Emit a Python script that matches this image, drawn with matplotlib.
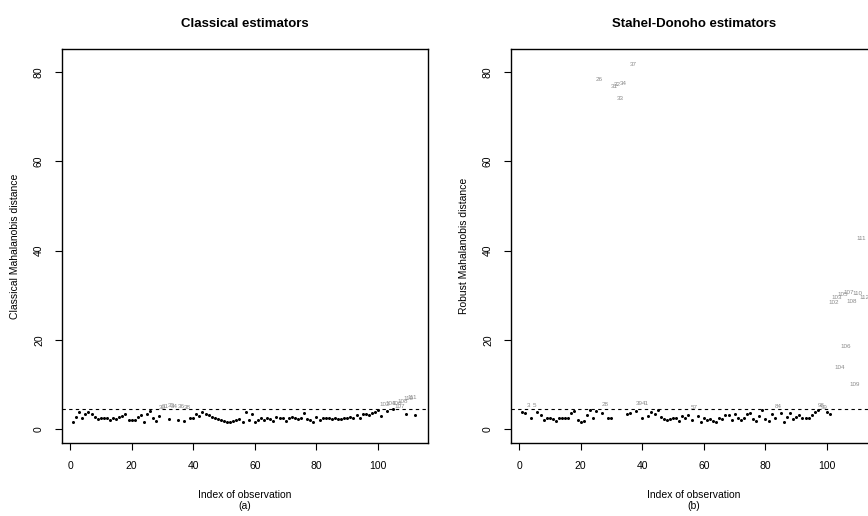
import numpy as np
import matplotlib.pyplot as plt

plt.rcParams['font.family'] = ['Liberation Sans', 'DejaVu Sans']

# Mahalanobis distances for observations 1..112
classical_dist = [1.5, 2.8, 3.8, 2.5, 3.5, 3.8, 3.3, 2.7, 2.2, 2.5,
                  2.4, 2.6, 2.0, 2.4, 2.3, 2.7, 3.0, 3.5, 2.0, 2.0,
                  2.0, 2.8, 3.2, 1.7, 3.5, 4.0, 2.5, 1.8, 3.0, 4.8,
                  5.0, 2.2, 5.3, 5.1, 2.1, 5.0, 1.8, 4.8, 2.6, 2.6,
                  3.5, 3.0, 3.8, 3.3, 3.2, 2.8, 2.6, 2.2, 2.0, 1.8,
                  1.7, 1.7, 1.9, 2.1, 2.3, 1.7, 3.8, 2.1, 3.3, 1.5,
                  2.1, 2.4, 2.0, 2.6, 2.2, 1.8, 2.8, 2.6, 2.5, 1.9,
                  2.5, 2.7, 2.4, 2.3, 2.6, 3.6, 2.2, 2.0, 1.6, 2.7,
                  2.1, 2.4, 2.5, 2.4, 2.3, 2.6, 2.2, 2.3, 2.4, 2.5,
                  2.7, 2.6, 3.2, 2.5, 3.4, 3.5, 3.2, 3.6, 3.8, 4.2,
                  3.0, 5.6, 4.0, 5.7, 4.5, 5.8, 5.1, 6.1, 3.4, 6.8,
                  7.1, 3.2]

robust_dist = [3.8, 3.7, 5.3, 2.4, 5.4, 3.9, 3.1, 2.0, 2.4, 2.6,
               2.2, 1.9, 2.4, 2.5, 2.4, 2.6, 3.6, 4.0, 2.1, 1.5,
               1.9, 3.2, 4.3, 2.4, 4.1, 78.4, 3.7, 5.6, 2.5, 2.5,
               76.8, 77.3, 74.0, 77.5, 3.3, 3.6, 81.8, 4.0, 5.8, 2.5,
               5.7, 3.0, 3.9, 3.4, 4.3, 2.8, 2.3, 2.1, 2.3, 2.4,
               2.6, 1.9, 2.9, 2.5, 3.1, 2.0, 4.9, 2.9, 1.5, 2.6,
               2.1, 2.3, 1.8, 1.7, 2.6, 2.2, 3.2, 3.1, 2.0, 3.3,
               2.5, 2.0, 2.6, 3.3, 3.7, 2.3, 1.9, 3.0, 4.3, 2.3,
               1.8, 3.4, 2.5, 5.0, 3.7, 1.7, 2.8, 3.6, 2.3, 2.8,
               3.2, 2.6, 2.5, 2.6, 3.1, 3.8, 4.2, 5.3, 4.9, 3.8,
               3.4, 28.3, 29.6, 13.8, 30.2, 18.6, 30.7, 28.5, 10.0, 30.4,
               42.8, 29.4]

cutoff = 4.6
titles = ['Classical estimators', 'Stahel-Donoho estimators']
ylabels = ['Classical Mahalanobis distance', 'Robust Mahalanobis distance']
panel_tags = ['(a)', '(b)']

fig = plt.figure(figsize=(8.68, 5.16), dpi=100)
ax_l = fig.add_axes([62 / 868, 73 / 516, 366 / 868, 394 / 516])
# right panel runs past the page edge
ax_r = fig.add_axes([511 / 868, 73 / 516, 366 / 868, 394 / 516])

for ax, dist, title, ylab, tag in zip([ax_l, ax_r], [classical_dist, robust_dist],
                                      titles, ylabels, panel_tags):
    d = np.array(dist)
    idx = np.arange(1, len(d) + 1)
    low = d <= cutoff
    ax.plot(idx[low], d[low], 'o', color='black', markersize=2.2, markeredgewidth=0)
    # points beyond the cutoff are shown by their index
    for i, v in zip(idx[~low], d[~low]):
        ax.text(i, v, str(i), fontsize=4.5, color='#8a8a8a', ha='center', va='center')
    ax.axhline(cutoff, color='black', linestyle=(0, (3, 3)), linewidth=0.8)

    ax.set_xlim(-2.6, 116.2)
    ax.set_ylim(-3.1, 85.2)
    ax.set_xticks([0, 20, 40, 60, 80, 100])
    ax.set_yticks([0, 20, 40, 60, 80])
    ax.tick_params(direction='out', length=5, width=0.8, labelsize=7.5, pad=8)
    for lab in ax.get_yticklabels():
        lab.set_rotation(90)
        lab.set_va('center')
    for sp in ax.spines.values():
        sp.set_linewidth(1.0)
    ax.set_title(title, fontsize=9.5, fontweight='bold', pad=16)
    ax.set_xlabel('Index of observation\n' + tag, fontsize=7.5, labelpad=14,
                  linespacing=1.1)
    ax.set_ylabel(ylab, fontsize=7.5, labelpad=10)

fig.savefig('out.png', dpi=100)
